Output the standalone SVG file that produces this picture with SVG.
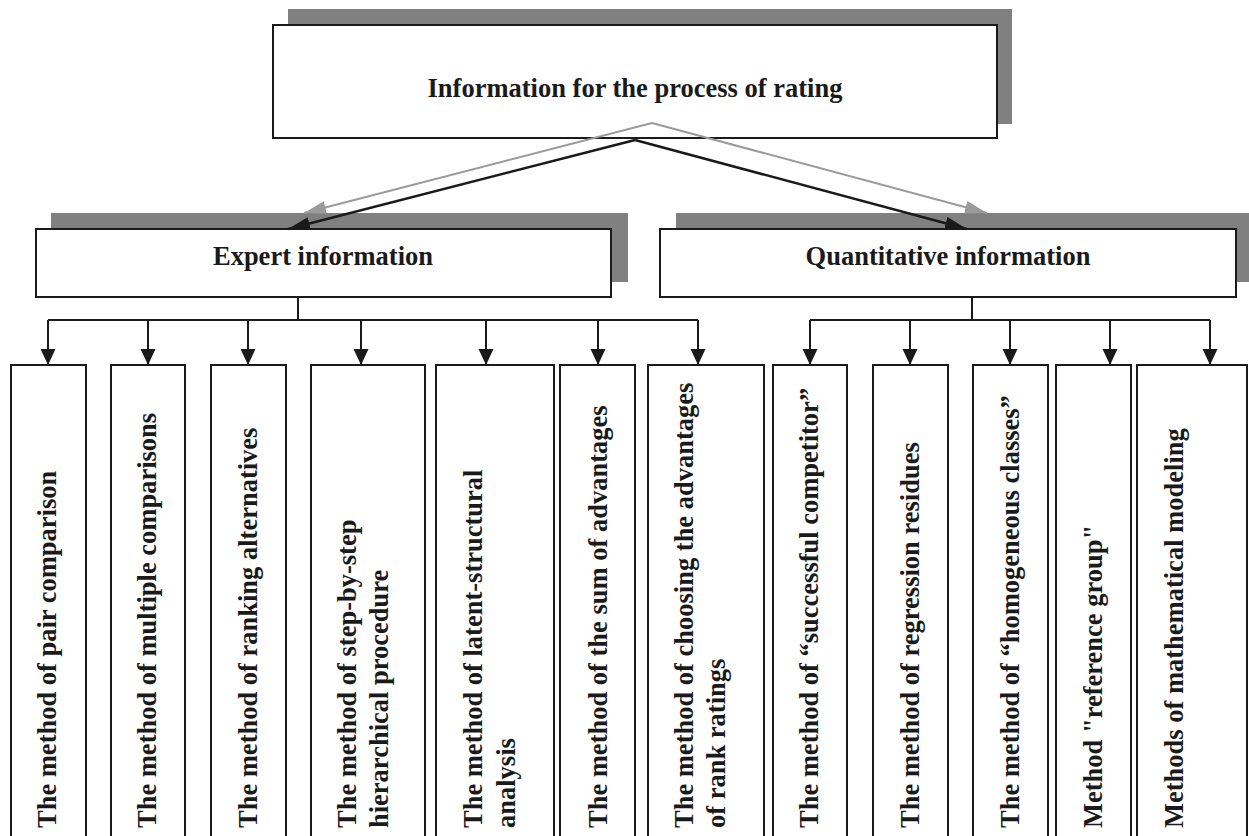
<svg xmlns="http://www.w3.org/2000/svg" width="1249" height="836" viewBox="0 0 1249 836">
<defs>
<style>
.shadow{fill:#808080}
.box{fill:#fff;stroke:#1a1a1a;stroke-width:2}
.t{font-family:"Liberation Serif","Times New Roman",serif;font-weight:bold;font-size:26.5px;fill:#1a1a1a}
.c{text-anchor:middle}
.ln{fill:none;stroke:#1a1a1a;stroke-width:2}
.bk{fill:none;stroke:#1a1a1a;stroke-width:2.5}
.gr{fill:none;stroke:#9a9a9a;stroke-width:2}
</style>
<marker id="ah" markerUnits="userSpaceOnUse" markerWidth="16" markerHeight="16" refX="16" refY="8" orient="auto"><path d="M0,0.5 L16,8 L0,15.5 z" fill="#1a1a1a"/></marker>
<marker id="ahb" markerUnits="userSpaceOnUse" markerWidth="22" markerHeight="14" refX="22" refY="7" orient="auto"><path d="M0,0.5 L22,7 L0,13.5 z" fill="#1a1a1a"/></marker>
<marker id="ahg" markerUnits="userSpaceOnUse" markerWidth="22" markerHeight="14" refX="22" refY="7" orient="auto"><path d="M0,0.5 L22,7 L0,13.5 z" fill="#9a9a9a"/></marker>
</defs>
<rect width="1249" height="836" fill="#fff"/>

<g id="root">
<rect class="shadow" x="288" y="9" width="724" height="115"/>
<rect class="box" x="273" y="25" width="724" height="113"/>
<text class="t c" x="635" y="97">Information for the process of rating</text>
</g>

<g id="expert">
<rect class="shadow" x="51" y="213" width="577" height="69"/>
<rect class="box" x="36" y="229" width="575" height="68"/>
<text class="t c" x="323" y="265">Expert information</text>
</g>

<g id="quantitative">
<rect class="shadow" x="676" y="213" width="580" height="69"/>
<rect class="box" x="660" y="229" width="576" height="68"/>
<text class="t c" x="948" y="265">Quantitative information</text>
</g>

<g id="connectors">
<path class="gr" d="M652,123 L304,213" marker-end="url(#ahg)"/>
<path class="gr" d="M652,123 L987,213" marker-end="url(#ahg)"/>
<path class="bk" d="M635,140 L288,229" marker-end="url(#ahb)"/>
<path class="bk" d="M635,140 L967,229" marker-end="url(#ahb)"/>
<path class="ln" d="M298,297 V320 M48,320 H698"/>
<path class="ln" d="M972,297 V320 M810,320 H1210"/>
<path class="ln" d="M48,320 V365" marker-end="url(#ah)"/>
<path class="ln" d="M148,320 V365" marker-end="url(#ah)"/>
<path class="ln" d="M248,320 V365" marker-end="url(#ah)"/>
<path class="ln" d="M361,320 V365" marker-end="url(#ah)"/>
<path class="ln" d="M486,320 V365" marker-end="url(#ah)"/>
<path class="ln" d="M598,320 V365" marker-end="url(#ah)"/>
<path class="ln" d="M698,320 V365" marker-end="url(#ah)"/>
<path class="ln" d="M810,320 V365" marker-end="url(#ah)"/>
<path class="ln" d="M910,320 V365" marker-end="url(#ah)"/>
<path class="ln" d="M1010,320 V365" marker-end="url(#ah)"/>
<path class="ln" d="M1110,320 V365" marker-end="url(#ah)"/>
<path class="ln" d="M1210,320 V365" marker-end="url(#ah)"/>
</g>

<g id="m1"><rect class="box" x="11" y="365" width="75" height="490"/>
<text class="t" transform="translate(56,828) rotate(-90)">The method of pair comparison</text></g>
<g id="m2"><rect class="box" x="111" y="365" width="74" height="490"/>
<text class="t" transform="translate(156,828) rotate(-90)">The method of multiple comparisons</text></g>
<g id="m3"><rect class="box" x="211" y="365" width="75" height="490"/>
<text class="t" transform="translate(257,828) rotate(-90)">The method of ranking alternatives</text></g>
<g id="m4"><rect class="box" x="311" y="365" width="114" height="490"/>
<text class="t" transform="translate(356,828) rotate(-90)">The method of step-by-step<tspan x="0" dy="32">hierarchical procedure</tspan></text></g>
<g id="m5"><rect class="box" x="436" y="365" width="118" height="490"/>
<text class="t" transform="translate(482,828) rotate(-90)">The method of latent-structural<tspan x="0" dy="33">analysis</tspan></text></g>
<g id="m6"><rect class="box" x="560" y="365" width="75" height="490"/>
<text class="t" transform="translate(607,828) rotate(-90)">The method of the sum of advantages</text></g>
<g id="m7"><rect class="box" x="648" y="365" width="116" height="490"/>
<text class="t" transform="translate(693,828) rotate(-90)">The method of choosing the advantages<tspan x="0" dy="32">of rank ratings</tspan></text></g>
<g id="m8"><rect class="box" x="773" y="365" width="74" height="490"/>
<text class="t" transform="translate(818,828) rotate(-90)">The method of “successful competitor”</text></g>
<g id="m9"><rect class="box" x="873" y="365" width="75" height="490"/>
<text class="t" transform="translate(919,828) rotate(-90)">The method of regression residues</text></g>
<g id="m10"><rect class="box" x="973" y="365" width="75" height="490"/>
<text class="t" transform="translate(1019,828) rotate(-90)">The method of “homogeneous classes”</text></g>
<g id="m11"><rect class="box" x="1056" y="365" width="75" height="490"/>
<text class="t" transform="translate(1102,828) rotate(-90)">Method "reference group"</text></g>
<g id="m12"><rect class="box" x="1137" y="365" width="110" height="490"/>
<text class="t" transform="translate(1183,828) rotate(-90)">Methods of mathematical modeling</text></g>
</svg>
